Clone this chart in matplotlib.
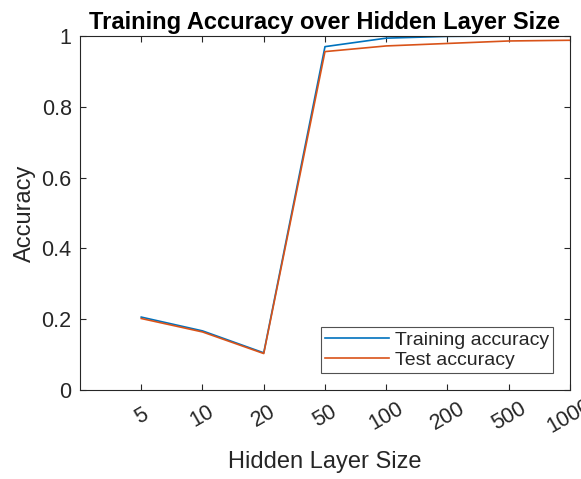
import matplotlib.pyplot as plt
import numpy as np

plt.rcParams['font.family'] = ['Liberation Sans', 'DejaVu Sans']

hidden_sizes = ['5', '10', '20', '50', '100', '200', '500', '1000']
train_acc = [0.206, 0.167, 0.105, 0.970, 0.994, 0.999, 1.000, 1.000]
test_acc = [0.202, 0.164, 0.103, 0.956, 0.972, 0.979, 0.986, 0.988]

fig = plt.figure(figsize=(5.81, 4.79), dpi=100)
ax = fig.add_axes([0.1377, 0.1858, 0.8433, 0.739])

x = np.arange(1, len(hidden_sizes) + 1)
ax.plot(x, train_acc, color='#0072BD', lw=1.2, label='Training accuracy')
ax.plot(x, test_acc, color='#D95319', lw=1.2, label='Test accuracy')

ax.set_xlim(0, len(hidden_sizes))
ax.set_ylim(0, 1)
ax.set_xticks(x)
ax.set_xticklabels(hidden_sizes, rotation=30, fontsize=15.5, color='#262626',
                   ha='center', va='center')
ax.set_yticks([0, 0.2, 0.4, 0.6, 0.8, 1])
ax.set_yticklabels(['0', '0.2', '0.4', '0.6', '0.8', '1'], fontsize=15.5, color='#262626')
ax.tick_params(direction='in', top=True, right=True, length=4, width=0.8, color='#262626')
ax.tick_params(axis='x', pad=19)
ax.tick_params(axis='y', pad=6)
for s in ax.spines.values():
    s.set_color('#262626')
    s.set_linewidth(0.8)

ax.set_xlabel('Hidden Layer Size', fontsize=17, color='#262626', labelpad=10)
ax.set_ylabel('Accuracy', fontsize=17, color='#262626', labelpad=4)
ax.set_title('Training Accuracy over Hidden Layer Size', fontsize=17, fontweight='bold', pad=5)

leg = ax.legend(loc='lower right', bbox_to_anchor=(0.9653, 0.048), fontsize=14,
                frameon=True, fancybox=False, edgecolor='#262626', handlelength=3.3,
                borderaxespad=0, borderpad=0.2, labelspacing=0.15, handletextpad=0.3)
leg.get_frame().set_linewidth(0.8)
for t in leg.get_texts():
    t.set_color('#262626')

fig.savefig('out.png', dpi=100)
